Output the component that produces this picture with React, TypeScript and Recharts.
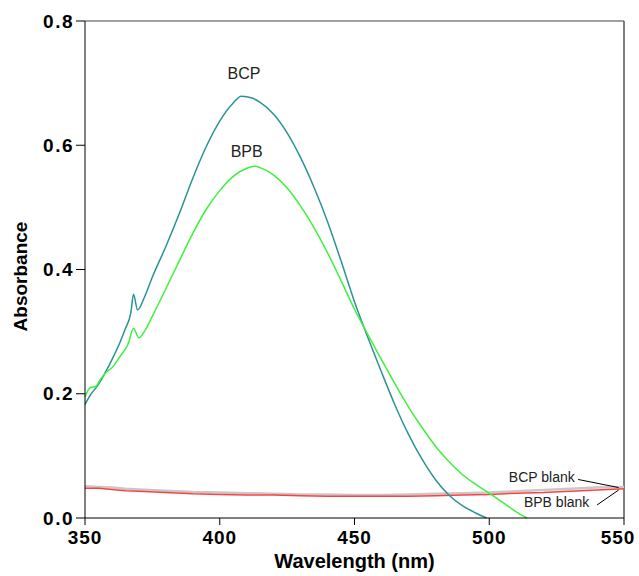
import React from 'react';
import { LineChart, Line, XAxis, YAxis, ReferenceLine, ReferenceDot, Label } from 'recharts';

const bcpWavelength = [350, 352, 355, 358, 360, 363, 365, 367, 368, 369.5, 372, 375, 380, 385, 390, 395, 400, 405, 408, 412, 415, 420, 425, 430, 435, 440, 445, 450, 455, 460, 465, 470, 475, 480, 485, 490, 495, 499];
const bcpAbs = [0.183, 0.198, 0.215, 0.238, 0.255, 0.283, 0.305, 0.33, 0.36, 0.335, 0.355, 0.388, 0.437, 0.49, 0.547, 0.598, 0.639, 0.668, 0.679, 0.676, 0.669, 0.65, 0.62, 0.58, 0.532, 0.477, 0.414, 0.348, 0.29, 0.235, 0.182, 0.135, 0.095, 0.062, 0.037, 0.02, 0.008, 0.0];

const bpbWavelength = [350, 352, 354, 356, 358, 360, 363, 366, 368, 370, 372, 375, 380, 385, 390, 395, 400, 405, 410, 413, 415, 420, 425, 430, 435, 440, 445, 450, 455, 460, 465, 470, 475, 480, 485, 490, 495, 500, 505, 510, 514];
const bpbAbs = [0.195, 0.21, 0.212, 0.225, 0.235, 0.242, 0.26, 0.28, 0.305, 0.29, 0.3, 0.325, 0.369, 0.414, 0.458, 0.497, 0.527, 0.55, 0.563, 0.566, 0.564, 0.552, 0.531, 0.502, 0.467, 0.427, 0.382, 0.336, 0.295, 0.255, 0.216, 0.179, 0.146, 0.116, 0.091, 0.07, 0.054, 0.04, 0.025, 0.01, 0.0];

const blankWavelength = [350, 355, 360, 365, 370, 380, 390, 400, 410, 420, 430, 440, 450, 460, 470, 480, 490, 500, 510, 520, 530, 540, 550];
const bcpBlankAbs = [0.051, 0.05, 0.049, 0.047, 0.046, 0.044, 0.042, 0.041, 0.04, 0.039, 0.038, 0.038, 0.037, 0.037, 0.038, 0.039, 0.04, 0.041, 0.043, 0.045, 0.047, 0.049, 0.05];
const bpbBlankAbs = [0.048, 0.048, 0.046, 0.044, 0.043, 0.041, 0.039, 0.038, 0.037, 0.037, 0.036, 0.035, 0.035, 0.035, 0.035, 0.036, 0.037, 0.038, 0.04, 0.041, 0.043, 0.045, 0.047];

const xTicks = [350, 400, 450, 500, 550];
const yTicks = [0, 0.2, 0.4, 0.6, 0.8];

const toPoints = (xs: number[], ys: number[]) => xs.map((x, i) => ({ x, y: ys[i] }));

const bcp = toPoints(bcpWavelength, bcpAbs);
const bpb = toPoints(bpbWavelength, bpbAbs);
const bcpBlank = toPoints(blankWavelength, bcpBlankAbs);
const bpbBlank = toPoints(blankWavelength, bpbBlankAbs);

const font = '"Liberation Sans", Arial, sans-serif';
const tickStyle = { fill: '#000', fontSize: 19, fontWeight: 'bold', fontFamily: font, letterSpacing: 1.5 };

// last label is pulled in a little so it stays inside the canvas, like the original
const XTick = (props: any) => {
    const { x, y, payload } = props;
    return (
        <text x={Math.min(x, 618)} y={y + 17} textAnchor="middle" {...tickStyle} letterSpacing={1}>
            {payload.value}
        </text>
    );
};

const YTitle = (props: any) => {
    const { viewBox } = props;
    const cy = viewBox.y + viewBox.height / 2 + 7;
    return (
        <text x={27} y={cy} transform={`rotate(-90, 27, ${cy})`} textAnchor="middle" fill="#000" fontSize={19} fontWeight="bold" fontFamily={font}>
            Absorbance
        </text>
    );
};

const App: React.FC = () => {
    return (
        <div style={{ position: 'absolute', left: 0, top: 0, fontFamily: font }}>
            <LineChart width={639} height={576} margin={{ top: 21, right: 15, left: 0, bottom: 0 }}>
                <XAxis
                    type="number"
                    dataKey="x"
                    domain={[350, 550]}
                    ticks={xTicks}
                    height={58}
                    stroke="#000"
                    tickSize={7}
                    tick={<XTick />}
                    allowDuplicatedCategory={false}
                >
                    <Label value="Wavelength (nm)" position="insideBottom" offset={8} style={{ fill: '#000', fontSize: 20, fontWeight: 'bold', fontFamily: font }} />
                </XAxis>
                <YAxis
                    type="number"
                    domain={[0, 0.8]}
                    ticks={yTicks}
                    width={85}
                    stroke="#000"
                    tickSize={9}
                    tickFormatter={(v) => (v as number).toFixed(1)}
                    tick={tickStyle}
                >
                    <Label content={<YTitle />} />
                </YAxis>
                <ReferenceLine y={0.8} stroke="#808080" strokeWidth={1.5} />
                <ReferenceLine x={550} stroke="#555" strokeWidth={1.5} />
                <Line data={bcpBlank} dataKey="y" type="linear" stroke="#c8c8c8" strokeWidth={2.5} dot={false} isAnimationActive={false} />
                <Line data={bpbBlank} dataKey="y" type="linear" stroke="#ff4040" strokeWidth={1.5} dot={false} isAnimationActive={false} />
                <Line data={bcp} dataKey="y" type="monotone" stroke="#2a9494" strokeWidth={1.5} dot={false} isAnimationActive={false} />
                <Line data={bpb} dataKey="y" type="monotone" stroke="#3ef03e" strokeWidth={1.5} dot={false} isAnimationActive={false} />
                <ReferenceLine segment={[{ x: 533, y: 0.062 }, { x: 548, y: 0.049 }]} stroke="#000" />
                <ReferenceLine segment={[{ x: 540, y: 0.021 }, { x: 548, y: 0.045 }]} stroke="#000" />
                <ReferenceDot x={409} y={0.715} r={0} fill="none" stroke="none">
                    <Label value="BCP" position="center" style={{ fill: '#222', fontSize: 16, fontFamily: font }} />
                </ReferenceDot>
                <ReferenceDot x={410} y={0.59} r={0} fill="none" stroke="none">
                    <Label value="BPB" position="center" style={{ fill: '#222', fontSize: 16, fontFamily: font }} />
                </ReferenceDot>
                <ReferenceDot x={519.5} y={0.066} r={0} fill="none" stroke="none">
                    <Label value="BCP blank" position="center" style={{ fill: '#222', fontSize: 14, fontFamily: font }} />
                </ReferenceDot>
                <ReferenceDot x={525} y={0.026} r={0} fill="none" stroke="none">
                    <Label value="BPB blank" position="center" style={{ fill: '#222', fontSize: 14, fontFamily: font }} />
                </ReferenceDot>
            </LineChart>
        </div>
    );
};

export default App;
